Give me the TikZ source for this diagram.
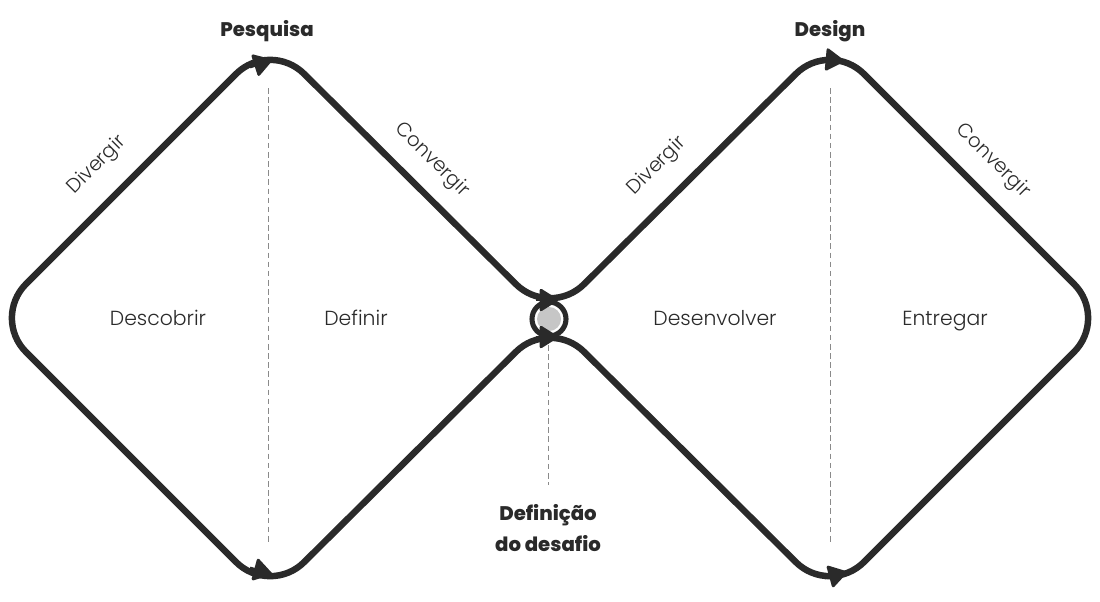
\documentclass[tikz,border=0pt]{standalone}
\usepackage{fontspec}
\setmainfont{Poppins}
\newfontfamily\lightfont{Poppins Light}
\newfontfamily\heavyfont{Poppins ExtraBold}
\usetikzlibrary{arrows.meta}
\definecolor{ink}{HTML}{2A2A2A}
\definecolor{guide}{HTML}{8A8A8A}
\definecolor{hub}{HTML}{C6C6C6}
\tikzset{
	outline/.style={draw=ink, line width=4.6pt, rounded corners=1.2cm, line join=round},
	flowtip/.style={-{Triangle[length=14pt,width=17pt,round]}, draw=ink, fill=ink, line width=2pt},
	guideline/.style={draw=guide, line width=0.7pt, dash pattern=on 4pt off 2.5pt},
	phase/.style={font=\lightfont\fontsize{14.5}{17}\selectfont, text=ink, anchor=base},
	stage/.style={font=\heavyfont\fontsize{14}{22}\selectfont, text=ink, align=center},
	flow/.style={font=\lightfont\fontsize{14}{16}\selectfont, text=ink}
}
\begin{document}
\begin{tikzpicture}[x=0.025cm, y=-0.025cm]
	\useasboundingbox (0,0) rectangle (1100,601);
	% corners of the two diamonds
	\coordinate (s) at (131,179);
	\coordinate (l) at (-8,318);
	\coordinate (t1) at (270,40);
	\coordinate (m) at (550,318);
	\coordinate (t2) at (830,40);
	\coordinate (r) at (1108,318);
	\coordinate (b2) at (830,596);
	\coordinate (b1) at (270,596);
	\draw[outline] (s) -- (t1) -- (m) -- (t2) -- (r) -- (b2) -- (m) -- (b1) -- (l) -- cycle;
	% guides
	\draw[guideline] (268,88) -- (268,543);
	\draw[guideline] (830,88) -- (830,543);
	\draw[guideline] (548,345) -- (548,485);
	% hub
	\filldraw[draw=ink, fill=white, line width=3.6pt] (549,319) circle[radius=0.425cm];
	\fill[hub] (549,319) circle[radius=0.3cm];
	% flow arrows
	\draw[flowtip] (250,67) -- (272,60);
	\draw[flowtip] (822,59) -- (844,61);
	\draw[flowtip] (536,300) -- (558,300);
	\draw[flowtip] (536,337) -- (558,337);
	\draw[flowtip] (250,568) -- (272,574);
	\draw[flowtip] (825,578) -- (847,572);
	% labels
	\node[stage] (pesquisa) at (267,31) {Pesquisa};
	\node[stage] (design) at (830,31) {Design};
	\node[stage] (desafio) at (548,528) {Definição\\do desafio};
	\node[phase] (descobrir) at (158,325) {Descobrir};
	\node[phase] (definir) at (356,325) {Definir};
	\node[phase] (desenvolver) at (715,325) {Desenvolver};
	\node[phase] (entregar) at (945,325) {Entregar};
	\node[flow, rotate=45] (div1) at (97,165) {Divergir};
	\node[flow, rotate=-45] (conv1) at (432,160) {Convergir};
	\node[flow, rotate=45] (div2) at (657,166) {Divergir};
	\node[flow, rotate=-45] (conv2) at (993,161) {Convergir};
\end{tikzpicture}
\end{document}
